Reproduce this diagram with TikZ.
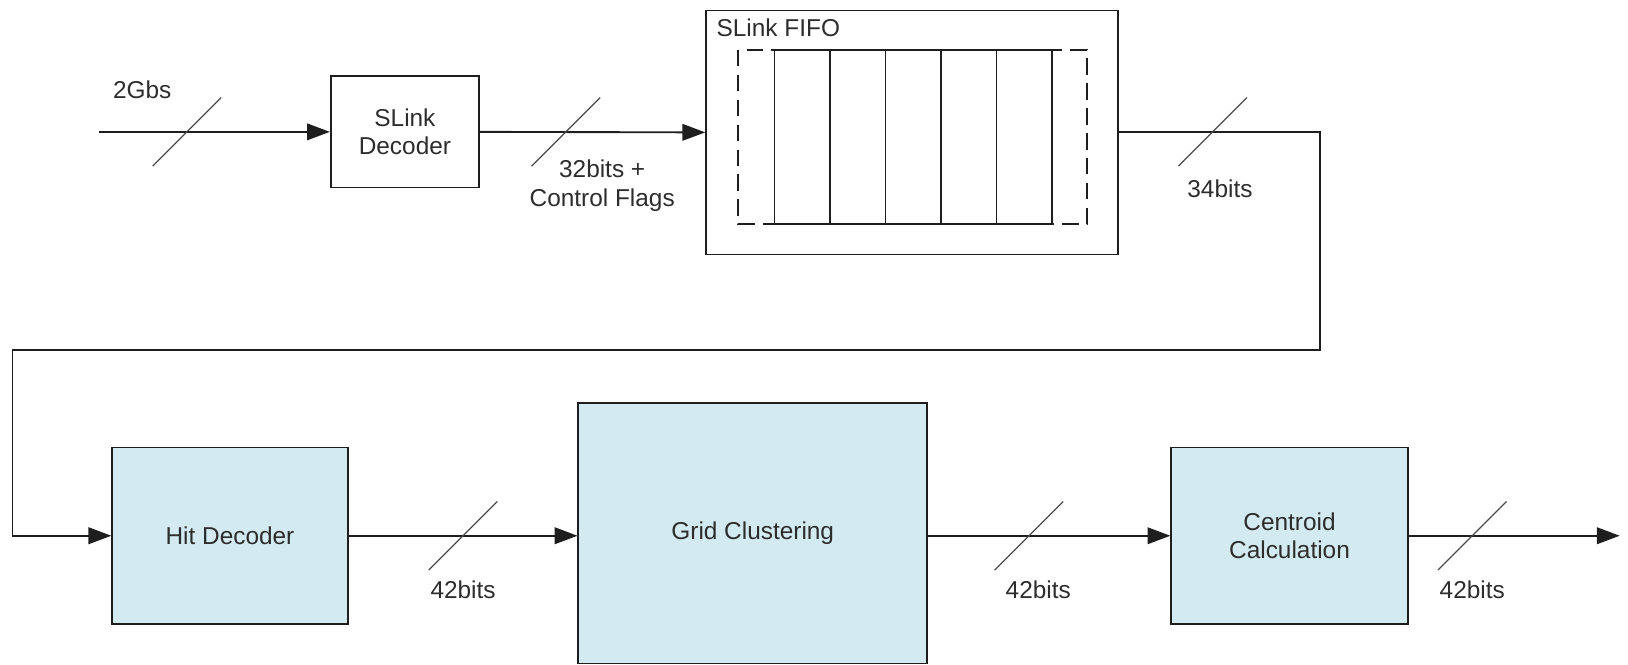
\documentclass[tikz,border=0pt]{standalone}
\usepackage{fontspec}
\setmainfont{Liberation Sans}
\usetikzlibrary{arrows.meta}
\definecolor{blockfill}{RGB}{210,234,240}
\definecolor{ink}{RGB}{30,30,30}
\definecolor{txt}{RGB}{45,45,45}
\begin{document}
\begin{tikzpicture}[x=1pt,y=-1pt,
  every node/.style={font=\fontsize{23.5}{27.5}\selectfont, text=txt},
  block/.style={draw=ink, line width=1.6pt, inner sep=0pt, align=center},
  procblock/.style={block, fill=blockfill},
  flow/.style={draw=ink, line width=1.8pt, -{Triangle[length=22pt,width=16pt]}},
  slashline/.style={draw=ink!80, line width=1.2pt},
  buslabel/.style={inner sep=0pt, align=center},
  cellline/.style={draw=ink, line width=1.6pt},
  buswidth/.pic={\draw[slashline] (-33,33) -- (33,-33);}]
\useasboundingbox (0,0) rectangle (1568,640);

% top row: link decoder and FIFO
\node[block, minimum width=143pt, minimum height=107pt] (dec) at (390,127) {SLink\\Decoder};
\node[block, minimum width=397pt, minimum height=235pt] (fifo) at (878.5,127.5) {};
\node[anchor=base west, inner sep=0pt] (fifolabel) at (690,35) {SLink FIFO};

% FIFO storage cells inside a dashed frame
\draw[cellline, dash pattern=on 16pt off 8pt] (711,48) rectangle (1047,216);
\foreach \i in {0,...,4}
  \draw[cellline] ({746+\i*53.4},48) rectangle ++(53.4,168);

% bottom row: processing stages
\node[procblock, minimum width=227pt, minimum height=170pt] (hit) at (221.5,516) {Hit Decoder};
\node[procblock, minimum width=336pt, minimum height=251pt] (grid) at (725,513.5) {Grid Clustering};
\node[procblock, minimum width=228pt, minimum height=170pt] (cen) at (1242,516) {Centroid\\Calculation};

% connectors
\coordinate (in) at (95,127);
\coordinate (rr) at (1271,337);
\coordinate (ll) at (12,337);
\coordinate (out) at (1560,516);

\draw[flow] (in) -- (dec.west);
\draw[flow] (dec.east) -- (fifo.west);
\draw[flow] (fifo.east) -| (rr) -- (ll) |- (hit.west);
\draw[flow] (hit.east) -- (hit.east -| grid.west);
\draw[flow] (cen.west -| grid.east) -- (cen.west);
\draw[flow] (cen.east) -- (out);

% bus width marks
\pic at (180,127) {buswidth};
\pic at (545,127) {buswidth};
\pic at (1168,127) {buswidth};
\pic at (446,516) {buswidth};
\pic at (991,516) {buswidth};
\pic at (1418,516) {buswidth};

% bus labels
\node[buslabel] (l2g) at (137,86) {2Gbs};
\node[buslabel] (l32) at (580,179) {32bits +\\Control Flags};
\node[buslabel] (l34) at (1175,182) {34bits};
\node[buslabel] (l42a) at (446,568) {42bits};
\node[buslabel] (l42b) at (1000,568) {42bits};
\node[buslabel] (l42c) at (1418,568) {42bits};
\end{tikzpicture}
\end{document}
